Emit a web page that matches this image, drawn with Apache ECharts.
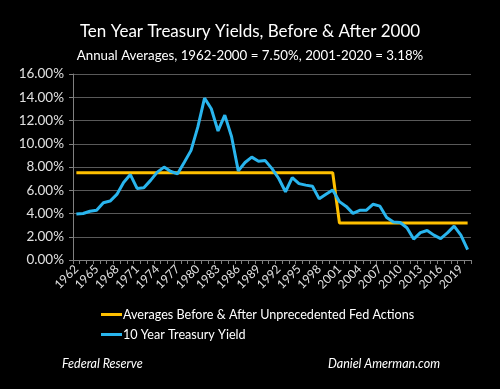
<!DOCTYPE html>
<html><head><meta charset="utf-8">
<script src="https://cdn.jsdelivr.net/npm/echarts@6/dist/echarts.min.js"></script>
<style>html,body{margin:0;padding:0;background:#000;}#c{width:500px;height:389px;}</style>
</head><body><div id="c"></div>
<script>
const years = [];
for (let y = 1962; y <= 2020; y++) years.push(String(y));
const treasury = [3.95,4.00,4.19,4.28,4.93,5.07,5.64,6.67,7.35,6.16,6.21,6.85,7.56,7.99,7.61,7.42,8.41,9.43,11.43,13.92,13.01,11.10,12.46,10.62,7.67,8.39,8.85,8.49,8.55,7.86,7.01,5.87,7.09,6.57,6.44,6.35,5.26,5.65,6.03,5.02,4.61,4.01,4.27,4.29,4.80,4.63,3.66,3.26,3.22,2.78,1.80,2.35,2.54,2.14,1.84,2.33,2.91,2.14,0.89];
const averages = [7.50,7.50,7.50,7.50,7.50,7.50,7.50,7.50,7.50,7.50,7.50,7.50,7.50,7.50,7.50,7.50,7.50,7.50,7.50,7.50,7.50,7.50,7.50,7.50,7.50,7.50,7.50,7.50,7.50,7.50,7.50,7.50,7.50,7.50,7.50,7.50,7.50,7.50,7.50,3.18,3.18,3.18,3.18,3.18,3.18,3.18,3.18,3.18,3.18,3.18,3.18,3.18,3.18,3.18,3.18,3.18,3.18,3.18,3.18];
const yTicks = {min: 0, max: 16, interval: 2};
const font = "Lato, 'Open Sans', sans-serif";
const chart = echarts.init(document.getElementById('c'));
chart.setOption({
  backgroundColor: '#000',
  animation: false,
  textStyle: {fontFamily: font},
  title: [
    {text: 'Ten Year Treasury Yields, Before & After 2000', left: 'center', top: 18,
     textStyle: {color: '#fff', fontSize: 17, fontWeight: 'normal', fontFamily: font}},
    {text: 'Annual Averages, 1962-2000 = 7.50%, 2001-2020 = 3.18%', left: 'center', top: 44,
     textStyle: {color: '#fff', fontSize: 13.3, fontWeight: 'normal', fontFamily: font}},
    {text: 'Federal Reserve', left: 57, top: 352,
     textStyle: {color: '#fff', fontSize: 12.5, fontStyle: 'italic', fontWeight: 'normal', fontFamily: font}},
    {text: 'Daniel Amerman.com', left: 323, top: 352,
     textStyle: {color: '#fff', fontSize: 12.5, fontStyle: 'italic', fontWeight: 'normal', fontFamily: font}}
  ],
  legend: {
    orient: 'vertical', left: 96, top: 303, itemGap: 7, itemWidth: 21, itemHeight: 3,
    icon: 'rect',
    textStyle: {color: '#fff', fontSize: 12.6, fontFamily: font, padding: [0,0,0,-4]},
    data: ['Averages Before & After Unprecedented Fed Actions', '10 Year Treasury Yield']
  },
  grid: {left: 73, right: 29, top: 74, bottom: 129, containLabel: false},
  xAxis: {
    type: 'category', data: years, boundaryGap: true,
    axisLine: {lineStyle: {color: '#808080', width: 1}},
    axisTick: {show: true, interval: 0, length: 4, lineStyle: {color: '#808080'}},
    axisLabel: {interval: 2, rotate: 45, color: '#e0e0e0', fontSize: 12, margin: 7, fontFamily: font}
  },
  yAxis: {
    type: 'value', min: yTicks.min, max: yTicks.max, interval: yTicks.interval,
    axisLine: {show: true, lineStyle: {color: '#808080'}},
    axisTick: {show: true, length: 4, lineStyle: {color: '#808080'}},
    splitLine: {lineStyle: {color: '#595959', width: 1}},
    axisLabel: {color: '#e0e0e0', fontSize: 13.5, margin: 9, fontFamily: font,
      formatter: v => v.toFixed(2) + '%'}
  },
  series: [
    {name: 'Averages Before & After Unprecedented Fed Actions', type: 'line', data: averages,
     showSymbol: false, symbol: 'none', color: '#ffc000', lineStyle: {color: '#ffc000', width: 3}},
    {name: '10 Year Treasury Yield', type: 'line', data: treasury,
     showSymbol: false, symbol: 'none', color: '#29b5ee', lineStyle: {color: '#29b5ee', width: 3}}
  ]
});
</script></body></html>
